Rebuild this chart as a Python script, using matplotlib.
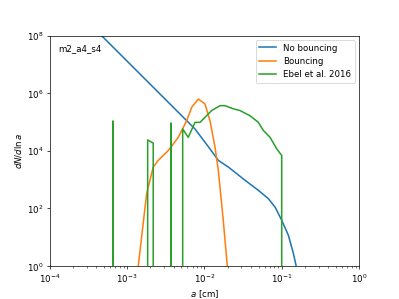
import numpy as np
import matplotlib
matplotlib.use('Agg')
import matplotlib.pyplot as plt

# no bouncing (log10 a, log10 dN/dln a)
a_nb = [-3.40, -3.331, -2.123, -1.929, -1.821, -1.692, -1.476, -1.303, -1.174, -1.087,
        -1.001, -0.915, -0.850, -0.816, -0.80]
n_nb = [8.18, 8.00, 4.76, 4.07, 3.67, 3.44, 2.98, 2.63, 2.34, 2.05,
        1.59, 1.07, 0.44, 0.03, -0.4]

# bouncing
a_b = [-2.90, -2.857, -2.748, -2.663, -2.598, -2.469, -2.339, -2.230, -2.166, -2.080, -1.994, -1.929,
       -1.864, -1.821, -1.757, -1.705, -1.69]
n_b = [-1.0, 0.0, 2.52, 3.44, 3.67, 4.01, 4.47, 5.05, 5.51, 5.80, 5.63, 5.05,
       4.13, 3.32, 1.59, 0.0, -0.4]

# Ebel et al. 2016 (zeros between the spikes)
a_e = [-3.184, -3.184, -3.184, -2.735, -2.735, -2.663, -2.663, -2.434, -2.434, -2.434,
       -2.282, -2.282, -2.210, -2.123, -2.058, -1.907, -1.799, -1.735, -1.627, -1.540,
       -1.411, -1.303, -1.239, -1.152, -1.065, -1.001, -1.001]
n_e = [None, 5.03, None, None, 4.38, 4.27, None, None, 4.96, None,
       None, 4.76, 4.47, 4.99, 4.99, 5.40, 5.57, 5.57, 5.46, 5.40,
       5.22, 4.99, 4.71, 4.47, 4.07, 3.84, None]


def conv(la, ln):
    x = 10.0 ** np.array(la)
    y = np.array([0.0 if v is None else 10.0 ** v for v in ln])
    return x, y


fig, ax = plt.subplots(figsize=(6.4, 4.8), dpi=399 / 6.4)
lw = 1.8
x, y = conv(a_nb, n_nb)
ax.plot(x, y, lw=lw, label='No bouncing')
x, y = conv(a_b, n_b)
ax.plot(x, y, lw=lw, label='Bouncing')
x, y = conv(a_e, n_e)
ax.plot(x, y, lw=lw, label='Ebel et al. 2016')
ax.set_xscale('log')
ax.set_yscale('log', nonpositive='clip')
ax.set_xlim(1e-4, 1)
ax.set_ylim(1, 1e8)
ax.set_yticks([1e0, 1e2, 1e4, 1e6, 1e8])
ax.yaxis.set_minor_locator(matplotlib.ticker.NullLocator())
ax.set_xlabel('$a$ [cm]')
ax.set_ylabel(r'$dN/d\ln a$')
ax.text(0.027, 0.945, 'm2_a4_s4', transform=ax.transAxes, va='center')
ax.legend(loc='upper right')
fig.savefig('out.png')
